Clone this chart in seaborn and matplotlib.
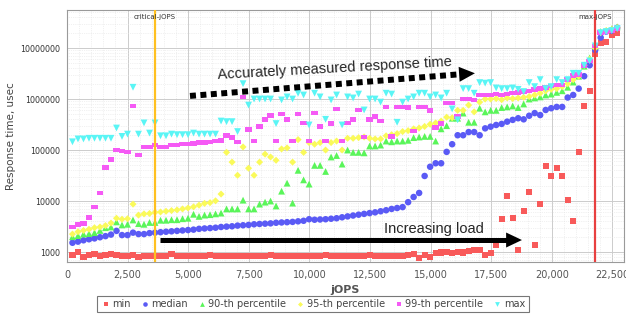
import numpy as np
import pandas as pd
import matplotlib
matplotlib.use('Agg')
import matplotlib.pyplot as plt
import matplotlib.ticker as mticker
import matplotlib.transforms as mtransforms
from matplotlib.path import Path
import seaborn as sns

# response-time curve points (jOPS steps and response time in usec)
jops = [227, 454, 681, 908, 1135, 1362, 1589, 1816, 2043, 2270,
        2497, 2724, 2951, 3178, 3405, 3632, 3859, 4086, 4313, 4540,
        4767, 4994, 5221, 5448, 5675, 5902, 6129, 6356, 6583, 6810,
        7037, 7264, 7491, 7718, 7945, 8172, 8399, 8626, 8853, 9080,
        9307, 9534, 9761, 9988, 10215, 10442, 10669, 10896, 11123, 11350,
        11577, 11804, 12031, 12258, 12485, 12712, 12939, 13166, 13393, 13620,
        13847, 14074, 14301, 14528, 14755, 14982, 15209, 15436, 15663, 15890,
        16117, 16344, 16571, 16798, 17025, 17252, 17479, 17706, 17933, 18160,
        18387, 18614, 18841, 19068, 19295, 19522, 19749, 19976, 20203, 20430,
        20657, 20884, 21111, 21338, 21565, 21792, 22019, 22246, 22473, 22700]

rt_min = [870, 1000, 810, 870, 920, 820, 860, 900, 880, 820,
          840, 860, 810, 830, 850, 820, 840, 830, 920, 830,
          820, 850, 830, 840, 820, 860, 830, 820, 850, 840,
          830, 820, 850, 830, 840, 820, 860, 830, 850, 820,
          840, 830, 850, 820, 840, 830, 860, 820, 850, 830,
          840, 820, 850, 830, 860, 840, 820, 850, 830, 840,
          850, 870, 900, 780, 870, 800, 950, 980, 1000, 960,
          1000, 980, 1050, 1100, 1100, 870, 955, 1370, 4400, 12500,
          4600, 1100, 6400, 15000, 1370, 8700, 49000, 31000, 44000, 31000,
          10500, 4000, 91000, 720000, 1440000, 7600000, 12600000, 13000000, 18000000, 20000000]

rt_median = [1520, 1600, 1700, 1780, 1850, 1950, 2050, 2200, 2600, 2150,
             2150, 2400, 2250, 2250, 2350, 2400, 2450, 2500, 2550, 2600,
             2650, 2700, 2750, 2850, 2900, 2950, 3000, 3100, 3150, 3200,
             3300, 3350, 3400, 3500, 3550, 3600, 3650, 3750, 3800, 3850,
             3900, 4000, 4100, 4400, 4300, 4350, 4400, 4500, 4600, 4800,
             5000, 5200, 5400, 5600, 5800, 6000, 6300, 6600, 7000, 7300,
             7600, 9500, 12000, 14400, 31000, 47000, 55000, 55000, 92000, 130000,
             195000, 195000, 225000, 225000, 195000, 266000, 287000, 310000, 325000, 360000,
             390000, 420000, 400000, 470000, 530000, 485000, 610000, 660000, 700000, 700000,
             1070000, 1200000, 1600000, 2800000, 4600000, 9100000, 16000000, 21000000, 22000000, 25000000]

rt_p90 = [2000, 2100, 2250, 2300, 2400, 2650, 3000, 3100, 3900, 3400,
          3500, 4250, 3600, 3500, 3800, 3800, 4200, 4200, 4300, 4300,
          4500, 4600, 5500, 5000, 5300, 5400, 5600, 5800, 7000, 7000,
          7000, 10400, 7000, 7000, 8700, 9500, 10000, 8000, 15600, 22400,
          9100, 40000, 26000, 21500, 50000, 50000, 38000, 73000, 78000, 53000,
          100000, 90000, 90000, 88000, 120000, 120000, 125000, 150000, 145000, 150000,
          150000, 155000, 175000, 180000, 185000, 185000, 150000, 260000, 300000, 420000,
          420000, 530000, 350000, 350000, 660000, 560000, 600000, 600000, 680000, 700000,
          730000, 680000, 800000, 1000000, 1050000, 1100000, 1200000, 1250000, 1350000, 1450000,
          1700000, 2150000, 2800000, 4400000, 6400000, 11000000, 21000000, 22000000, 24000000, 26000000]

rt_p95 = [2250, 2500, 2650, 2800, 3000, 3100, 3300, 3700, 4600, 4400,
          4500, 8700, 5300, 5600, 5700, 6000, 6100, 6300, 6500, 6700,
          7000, 7300, 7700, 8300, 9000, 9300, 10100, 13700, 90000, 58000,
          32000, 115000, 44000, 32000, 58000, 83000, 73000, 63000, 105000, 110000,
          58000, 160000, 90000, 140000, 130000, 140000, 100000, 140000, 150000, 100000,
          170000, 170000, 175000, 180000, 170000, 165000, 165000, 190000, 200000, 210000,
          230000, 240000, 260000, 270000, 290000, 320000, 340000, 370000, 440000, 430000,
          600000, 600000, 760000, 560000, 870000, 1000000, 1000000, 1020000, 970000, 1050000,
          1020000, 1050000, 1080000, 1120000, 1200000, 1300000, 1450000, 1550000, 1600000, 1750000,
          2000000, 2400000, 2800000, 4600000, 6000000, 10000000, 20000000, 22000000, 23000000, 25000000]

rt_p99 = [3100, 3500, 3600, 4800, 7600, 14300, 46000, 66000, 100000, 95000,
          92000, 730000, 80000, 115000, 115000, 125000, 115000, 115000, 125000, 125000,
          130000, 130000, 135000, 140000, 140000, 145000, 150000, 155000, 195000, 175000,
          145000, 1100000, 250000, 150000, 290000, 400000, 480000, 150000, 510000, 400000,
          150000, 510000, 340000, 150000, 530000, 290000, 150000, 330000, 640000, 150000,
          340000, 400000, 610000, 180000, 400000, 450000, 370000, 700000, 185000, 700000,
          700000, 680000, 235000, 700000, 700000, 600000, 280000, 330000, 830000, 830000,
          460000, 1000000, 1000000, 950000, 1200000, 1200000, 1200000, 1250000, 1200000, 1250000,
          1300000, 1350000, 1400000, 1450000, 1550000, 1600000, 1700000, 1800000, 1900000, 1900000,
          2400000, 2900000, 3000000, 4600000, 5600000, 11000000, 20000000, 21000000, 22000000, 24000000]

rt_max = [145000, 165000, 165000, 170000, 170000, 170000, 170000, 170000, 270000, 185000,
          205000, 1700000, 205000, 340000, 215000, 340000, 190000, 190000, 205000, 200000,
          200000, 200000, 215000, 205000, 205000, 205000, 205000, 370000, 360000, 360000,
          230000, 2000000, 760000, 1000000, 1000000, 1000000, 1000000, 330000, 960000, 1100000,
          1000000, 1300000, 1200000, 310000, 1300000, 1100000, 400000, 960000, 1200000, 310000,
          1100000, 1050000, 1250000, 610000, 1000000, 1000000, 870000, 1300000, 1250000, 350000,
          870000, 1000000, 1100000, 1300000, 1300000, 1100000, 1200000, 1050000, 1300000, 640000,
          390000, 1600000, 1600000, 1300000, 2100000, 2050000, 2100000, 1650000, 1600000, 1600000,
          1650000, 1550000, 1400000, 2100000, 1750000, 2400000, 1600000, 1750000, 2400000, 2100000,
          2400000, 3200000, 3200000, 4600000, 5600000, 11000000, 20000000, 21000000, 22000000, 24000000]

series_names = ['min', 'median', '90-th percentile', '95-th percentile', '99-th percentile', 'max']
series_values = [rt_min, rt_median, rt_p90, rt_p95, rt_p99, rt_max]

critical_jops = 3630
max_jops = 21800

y_ticks = [1000, 10000, 100000, 1000000, 10000000]

# long-form table for seaborn
df = pd.concat([pd.DataFrame({'jOPS': jops, 'rt': vals, 'series': name})
                for name, vals in zip(series_names, series_values)], ignore_index=True)

sns.set_style('white')
plt.rcParams['font.family'] = ['DejaVu Sans']

colors = dict(zip(series_names, ['#F85A5A', '#5A5AF5', '#5AF55A', '#FAFA5A', '#F55AF5', '#5AF5F5']))
rect = Path([(-1, -0.7), (1, -0.7), (1, 0.7), (-1, 0.7), (-1, -0.7)],
            [Path.MOVETO, Path.LINETO, Path.LINETO, Path.LINETO, Path.CLOSEPOLY])
markers = dict(zip(series_names, ['s', 'o', '^', 'D', rect, 'v']))
sizes = dict(zip(series_names, [19, 22, 24, 13, 22, 24]))

fig = plt.figure(figsize=(6.26, 3.18), dpi=100)
ax = fig.add_axes([0.107, 0.176, 0.8898, 0.7925])

sns.scatterplot(data=df, x='jOPS', y='rt', hue='series', style='series', size='series',
                palette=colors, markers=markers, sizes=sizes, linewidth=0, ax=ax, zorder=3)

ax.set_yscale('log')
ax.set_xlim(0, 22980)
ax.set_ylim(637, 5.56e7)

ax.xaxis.set_major_locator(mticker.MultipleLocator(2500))
ax.xaxis.set_minor_locator(mticker.MultipleLocator(500))
ax.xaxis.set_major_formatter(mticker.FuncFormatter(lambda v, p: f'{v:,.0f}'))
ax.yaxis.set_major_locator(mticker.FixedLocator(y_ticks))
ax.yaxis.set_minor_locator(mticker.LogLocator(base=10, subs=np.arange(2, 10)))
ax.yaxis.set_major_formatter(mticker.FuncFormatter(lambda v, p: f'{v:.0f}'))
ax.yaxis.set_minor_formatter(mticker.NullFormatter())

ax.grid(which='major', color='#cccccc', lw=0.7)
ax.grid(which='minor', color='#e3e3e3', lw=0.5, linestyle=':')
ax.set_axisbelow(True)
for sp in ax.spines.values():
    sp.set_color('#9a9a9a')
    sp.set_linewidth(0.8)
ax.tick_params(axis='x', which='major', length=3, color='#888888', labelsize=7, labelcolor='#555555', pad=3)
ax.tick_params(axis='y', which='major', length=3, color='#888888', labelsize=5.8, labelcolor='#333333', pad=2)
ax.tick_params(which='minor', length=1.5, color='#aaaaaa')

ax.set_xlabel('jOPS', fontsize=8, fontweight='bold', color='#555555', labelpad=3)
ax.set_ylabel('Response time, usec', fontsize=7.5, color='#444444', labelpad=3)

# critical / max jOPS markers
trans = mtransforms.blended_transform_factory(ax.transData, ax.transAxes)
ax.axvline(critical_jops, color='#FFC020', lw=1.6, zorder=4)
ax.axvline(max_jops, color='#E84040', lw=1.6, zorder=4)
ax.text(critical_jops, 0.972, 'critical-jOPS', transform=trans, ha='center', va='center',
        fontsize=5, color='#333333', zorder=5)
ax.text(max_jops, 0.972, 'max-jOPS', transform=trans, ha='center', va='center',
        fontsize=5, color='#333333', zorder=5)

# dotted arrow: accurately measured response time
ax.plot([5075, 16213], [1.15e6, 3.06e6], color='black', lw=4.3,
        linestyle=(0, (1, 0.75)), dash_capstyle='butt', zorder=6)
ax.annotate('', xy=(16830, 3.2e6), xytext=(16213, 3.06e6),
            arrowprops=dict(arrowstyle='-|>,head_length=0.95,head_width=0.45',
                            mutation_scale=12, color='black', lw=0, shrinkA=0, shrinkB=0),
            zorder=6)
ax.text(11050, 3.9e6, 'Accurately measured response time', rotation=3.2, rotation_mode='anchor',
        ha='center', va='center', fontsize=10.5, family='Liberation Sans', zorder=6)

# solid arrow: increasing load
ax.plot([3840, 18150], [1720, 1720], color='black', lw=3.6, solid_capstyle='butt', zorder=6)
ax.annotate('', xy=(18770, 1720), xytext=(18150, 1720),
            arrowprops=dict(arrowstyle='-|>,head_length=0.95,head_width=0.45',
                            mutation_scale=12, color='black', lw=0, shrinkA=0, shrinkB=0),
            zorder=6)
ax.text(15140, 2830, 'Increasing load', ha='center', va='center', fontsize=10.5,
        family='Liberation Sans', zorder=6)

handles, labels = ax.get_legend_handles_labels()
ax.get_legend().remove()
leg = fig.legend(handles, labels, loc='center', bbox_to_anchor=(0.5, 0.044), ncol=6,
                 frameon=True, fancybox=False, fontsize=7, handletextpad=0.2,
                 columnspacing=0.9, borderpad=0.35, handlelength=1.0, markerscale=0.7)
leg.get_frame().set_edgecolor('#555555')
leg.get_frame().set_linewidth(0.8)
for t in leg.get_texts():
    t.set_color('#444444')

fig.savefig('out.png', dpi=100)
